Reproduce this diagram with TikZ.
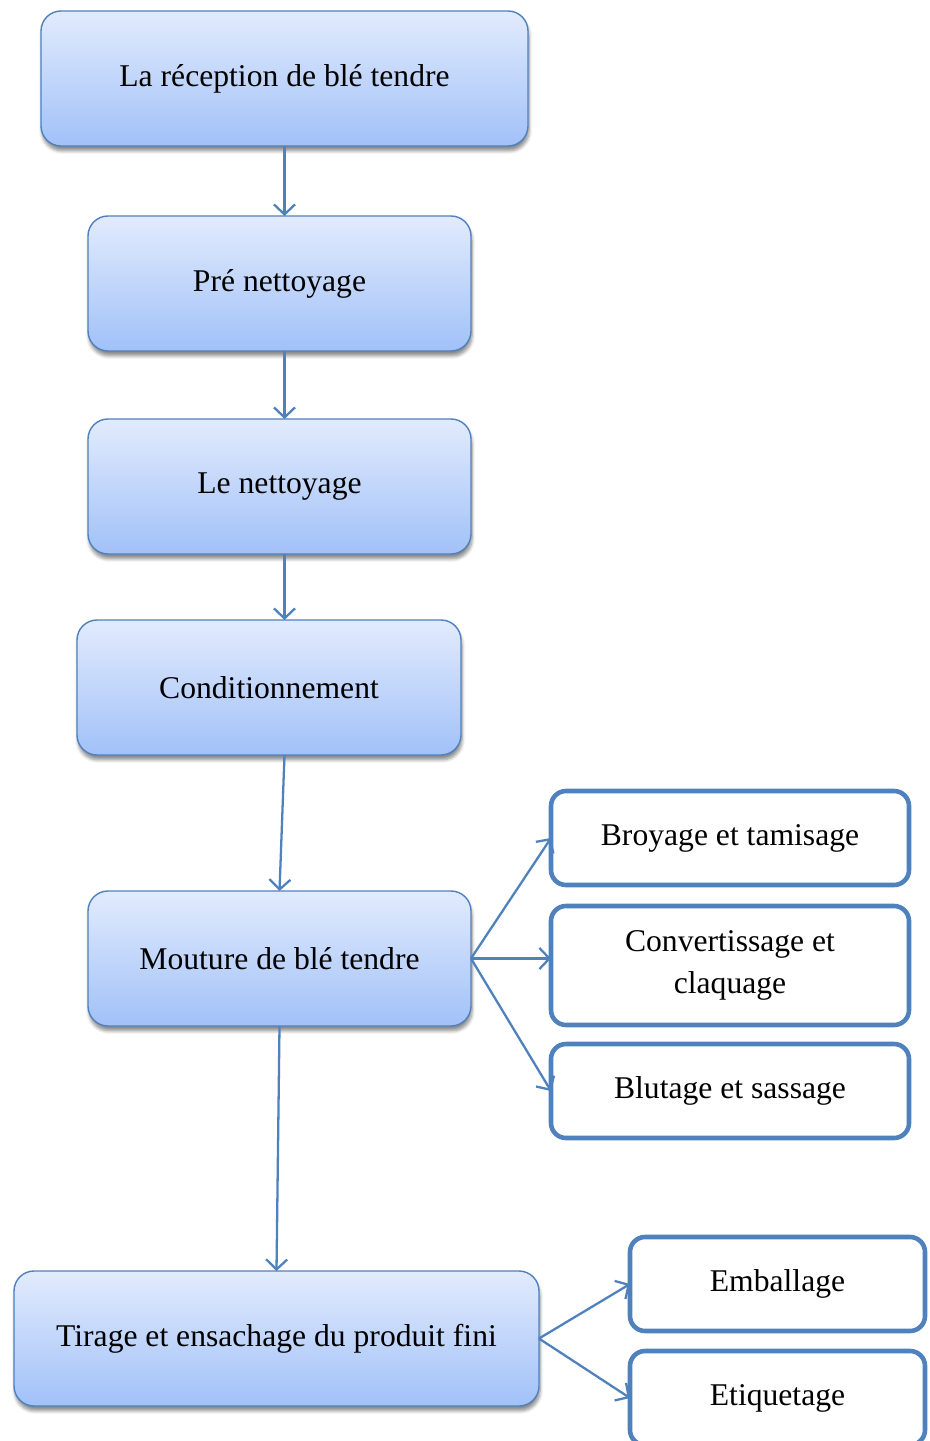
\documentclass[tikz,border=0pt]{standalone}
\usepackage{fontspec}
\setmainfont{Liberation Serif}
\usepackage{xcolor}
\usepackage{tikz}
\usetikzlibrary{arrows.meta, positioning, shadows.blur}

\definecolor{boxline}{RGB}{79,129,189}
\definecolor{boxtop}{RGB}{226,235,253}
\definecolor{boxbot}{RGB}{161,193,248}

\begin{document}
\begin{tikzpicture}[
    etape/.style={rectangle, rounded corners=0.4cm, draw=boxline, line width=0.8pt, outer sep=0pt,
        top color=boxtop, bottom color=boxbot, minimum width=7.66cm, minimum height=2.7cm,
        align=center, blur shadow={shadow xshift=0.6pt, shadow yshift=-2.8pt, shadow blur steps=6, shadow opacity=45}},
    sousetape/.style={rectangle, rounded corners=0.3cm, draw=boxline, line width=2.6pt, outer sep=0pt,
        fill=white, minimum width=7.16cm, minimum height=1.88cm, align=center},
    fleche/.style={draw=boxline, line width=1.3pt, -{Straight Barb[length=0.2cm, width=0.42cm]}},
    every node/.style={font=\fontsize{18}{24}\selectfont}
]
\useasboundingbox (0,0) rectangle (18.6,-28.82);

% Colonne principale
\node[etape, minimum width=9.74cm] (recep) at (5.69,-1.57) {La réception de blé tendre};
\node[etape, below=1.4cm of recep, xshift=-0.1cm] (prenet) {Pré nettoyage};
\node[etape, below=1.36cm of prenet] (nettoy) {Le nettoyage};
\node[etape, minimum width=7.68cm, below=1.32cm of nettoy, xshift=-0.21cm] (condit) {Conditionnement};
\node[etape, below=2.72cm of condit, xshift=0.21cm] (mouture) {Mouture de blé tendre};
\node[etape, minimum width=10.5cm, below=4.9cm of mouture, xshift=-0.06cm] (tirage) {Tirage et ensachage du produit fini};

% Etapes de la mouture
\node[sousetape, minimum height=2.38cm, right=1.6cm of mouture, yshift=-0.14cm] (convert) {Convertissage et\\claquage};
\node[sousetape, above=0.42cm of convert] (broyage) {Broyage et tamisage};
\node[sousetape, below=0.38cm of convert] (blutage) {Blutage et sassage};

% Etapes du conditionnement final
\node[sousetape, minimum width=5.9cm, right=1.82cm of tirage, yshift=1.09cm] (emball) {Emballage};
\node[sousetape, minimum width=5.9cm, below=0.4cm of emball] (etiquet) {Etiquetage};

% Fleches
\draw[fleche] (recep.south) -- (recep.south |- prenet.north);
\draw[fleche] (prenet.south -| recep.south) -- (nettoy.north -| recep.south);
\draw[fleche] (nettoy.south -| recep.south) -- (condit.north -| recep.south);
\draw[fleche] (condit.south -| recep.south) -- (mouture.north);
\draw[fleche] (mouture.south) -- (tirage.north);
\draw[fleche] (mouture.east) -- (broyage.west);
\draw[fleche] (mouture.east) -- (mouture.east -| convert.west);
\draw[fleche] (mouture.east) -- (blutage.west);
\draw[fleche] (tirage.east) -- (emball.west);
\draw[fleche] (tirage.east) -- (etiquet.west);

\end{tikzpicture}
\end{document}
